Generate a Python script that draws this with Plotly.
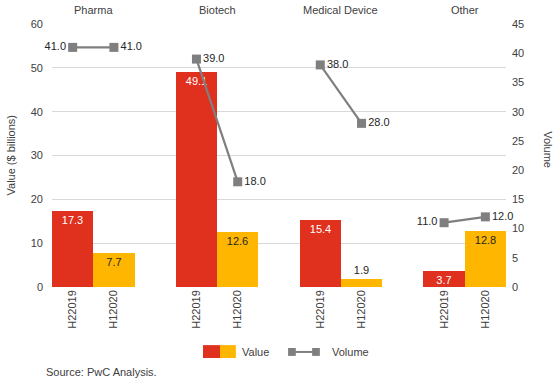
import plotly.graph_objects as go

groups = ["Pharma", "Biotech", "Medical Device", "Other"]
periods = ["H22019", "H12020"]
value_h22019 = [17.3, 49.1, 15.4, 3.7]
value_h12020 = [7.7, 12.6, 1.9, 12.8]
volume_h22019 = [41.0, 39.0, 38.0, 11.0]
volume_h12020 = [41.0, 18.0, 28.0, 12.0]

RED = "#E0301E"
ORANGE = "#FFB600"
GREY = "#7F7F7F"
TXT = "#404040"
FONT = "Liberation Sans, Arial, sans-serif"

# category slots: two bars per group, one empty slot between groups
bx, by, bcol, btxt, bpos, bfont = [], [], [], [], [], []
tickvals, ticktext = [], []
lx, ly, ltxt, lpos = [], [], [], []
vol_pos = [["middle left", "middle right"], ["middle right", "middle right"],
           ["middle right", "middle right"], ["middle left", "middle right"]]
for g in range(len(groups)):
    vals = [value_h22019[g], value_h12020[g]]
    vols = [volume_h22019[g], volume_h12020[g]]
    for j in range(2):
        x = g * 3 + j
        bx.append(x)
        by.append(vals[j])
        bcol.append(RED if j == 0 else ORANGE)
        btxt.append(f"{vals[j]:.1f}")
        small = vals[j] < 3
        bpos.append("outside" if small else "inside")
        bfont.append("white" if (j == 0 and not small) else "#262626")
        tickvals.append(x)
        ticktext.append(periods[j])
        lx.append(x)
        ly.append(vols[j])
        ltxt.append(f"{vols[j]:.1f}")
        lpos.append(vol_pos[g][j])
    lx.append(None)
    ly.append(None)
    ltxt.append("")
    lpos.append("middle right")

fig = go.Figure()
fig.add_trace(go.Bar(
    x=bx, y=by, width=1.0, marker=dict(color=bcol, line=dict(width=0)),
    text=btxt, textposition=bpos, insidetextanchor="end", constraintext="none",
    textfont=dict(family=FONT, size=11, color=bfont),
    outsidetextfont=dict(family=FONT, size=11, color="#262626"),
    cliponaxis=False, showlegend=False, name="Value"))
fig.add_trace(go.Scatter(
    x=lx, y=ly, yaxis="y2", mode="lines+markers+text",
    line=dict(color=GREY, width=2.2),
    marker=dict(symbol="square", size=9, color=GREY),
    text=ltxt, textposition=lpos,
    textfont=dict(family=FONT, size=11, color="#262626"),
    connectgaps=False, cliponaxis=False, showlegend=False, name="Volume"))

def note(x, y, text, xref="paper", xanchor="center", angle=0):
    return dict(x=x, y=y, xref=xref, yref="paper", text=text, showarrow=False,
                xanchor=xanchor, yanchor="middle", textangle=angle,
                font=dict(family=FONT, size=11, color=TXT))

annotations = [note(g * 3 + 0.5, 1.053, name, xref="x") for g, name in enumerate(groups)]
annotations += [
    note(-0.0925, 0.50, "Value ($ billions)", angle=-90),
    note(1.0925, 0.52, "Volume", angle=90),
    note(0.414, -0.247, "Value", xanchor="left"),
    note(0.612, -0.247, "Volume", xanchor="left"),
    note(-0.0176, -0.323, "Source: PwC Analysis.", xanchor="left"),
]

shapes = [
    dict(type="rect", xref="paper", yref="paper", x0=0.3326, x1=0.370, y0=-0.270, y1=-0.221,
         fillcolor=RED, line=dict(width=0)),
    dict(type="rect", xref="paper", yref="paper", x0=0.370, x1=0.405, y0=-0.270, y1=-0.221,
         fillcolor=ORANGE, line=dict(width=0)),
    dict(type="line", xref="paper", yref="paper", x0=0.528, x1=0.582, y0=-0.247, y1=-0.247,
         line=dict(color=GREY, width=2)),
    dict(type="rect", xref="paper", yref="paper", x0=0.520, x1=0.537, y0=-0.262, y1=-0.232,
         fillcolor=GREY, line=dict(width=0)),
    dict(type="rect", xref="paper", yref="paper", x0=0.573, x1=0.590, y0=-0.262, y1=-0.232,
         fillcolor=GREY, line=dict(width=0)),
]

fig.update_layout(
    width=555, height=384,
    margin=dict(l=52, r=49, t=24, b=97),
    paper_bgcolor="white", plot_bgcolor="white",
    font=dict(family=FONT, size=11, color=TXT),
    bargap=0,
    xaxis=dict(range=[-0.5, 10.5], tickvals=tickvals, ticktext=ticktext,
               tickangle=-90, showgrid=False, zeroline=False, showline=False,
               ticks="", automargin=False, tickfont=dict(family=FONT, size=11, color=TXT)),
    yaxis=dict(range=[0, 60], dtick=10, showgrid=True, gridcolor="#D9D9D9",
               gridwidth=1, zeroline=False, showline=False, ticks="", automargin=False,
               ticklabelstandoff=8,
               tickfont=dict(family=FONT, size=11, color=TXT)),
    yaxis2=dict(range=[0, 45], dtick=5, overlaying="y", side="right",
                showgrid=False, zeroline=False, showline=False, ticks="", automargin=False,
                ticklabelstandoff=5,
                tickfont=dict(family=FONT, size=11, color=TXT)),
    annotations=annotations, shapes=shapes,
)
# remove the browser's default body margin so the figure fills the window exactly
fig.write_html("out.html", config={"displayModeBar": False},
               post_script="document.body.style.margin='0';document.body.style.overflow='hidden';")
